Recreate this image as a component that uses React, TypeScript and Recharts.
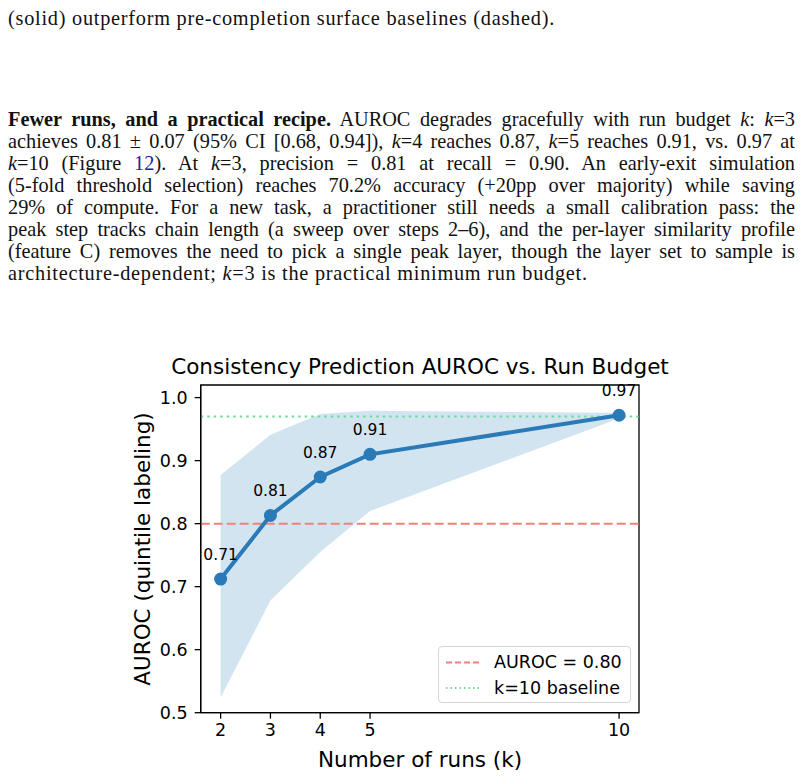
import {
  ComposedChart,
  Line,
  Area,
  XAxis,
  YAxis,
  ReferenceLine,
  ReferenceArea,
  LabelList,
} from "recharts";

const runs = [2, 3, 4, 5, 10];
const auroc = [0.712, 0.813, 0.874, 0.91, 0.972];
const ciLow = [0.524, 0.678, 0.755, 0.82, 0.967];
const ciHigh = [0.877, 0.941, 0.974, 0.979, 0.976];
const xTicks = [2, 3, 4, 5, 10];
const yTicks = [0.5, 0.6, 0.7, 0.8, 0.9, 1.0];

const chartData = runs.map((k, i) => ({
  k,
  auroc: auroc[i],
  band: [ciLow[i], ciHigh[i]],
}));

const BLUE = "#2a7ab7";
const BAND = "#d3e4f1";
const RED = "#ee8276";
const GREEN = "#6ddb9b";
const sans = "'DejaVu Sans', sans-serif";
const serif = "'Liberation Serif', serif";

const K = () => <i>k</i>;

function TextLine({ y, last, children }: { y: number; last?: boolean; children: React.ReactNode }) {
  return (
    <div
      style={{
        position: "absolute",
        left: 8,
        width: 787,
        height: 22,
        lineHeight: "22px",
        top: y - 11,
        textAlign: "justify",
        textAlignLast: last ? "left" : "justify",
        letterSpacing: last ? 0.75 : 0,
      }}
    >
      {children}
    </div>
  );
}

export default function App() {
  return (
    <div
      style={{
        position: "absolute",
        left: 0,
        top: 0,
        width: 805,
        height: 777,
        background: "#fff",
        fontFamily: serif,
        fontSize: 20.3,
        color: "#111",
        overflow: "hidden",
      }}
    >
      <TextLine y={18} last>
        (solid) outperform pre-completion surface baselines (dashed).
      </TextLine>

      <TextLine y={119}>
        <b>Fewer runs, and a practical recipe.</b> AUROC degrades gracefully with run budget <K />: <K />=3
      </TextLine>
      <TextLine y={141}>
        achieves 0.81 ± 0.07 (95% CI [0.68, 0.94]), <K />=4 reaches 0.87, <K />=5 reaches 0.91, vs. 0.97 at
      </TextLine>
      <TextLine y={163}>
        <K />=10 (Figure <span style={{ color: "#2222a0" }}>12</span>). At <K />=3, precision = 0.81 at recall = 0.90. An early-exit simulation
      </TextLine>
      <TextLine y={185}>
        (5-fold threshold selection) reaches 70.2% accuracy (+20pp over majority) while saving
      </TextLine>
      <TextLine y={207}>
        29% of compute. For a new task, a practitioner still needs a small calibration pass: the
      </TextLine>
      <TextLine y={229}>
        peak step tracks chain length (a sweep over steps 2–6), and the per-layer similarity profile
      </TextLine>
      <TextLine y={251}>
        (feature C) removes the need to pick a single peak layer, though the layer set to sample is
      </TextLine>
      <TextLine y={273} last>
        architecture-dependent; <K />=3 is the practical minimum run budget.
      </TextLine>

      {/* chart */}
      <div style={{ position: "absolute", left: 0, top: 340, width: 805, height: 437 }}>
        <ComposedChart
          width={805}
          height={437}
          data={chartData}
          margin={{ top: 45, right: 166, bottom: 34.3, left: 140.7 }}
        >
          <XAxis
            dataKey="k"
            type="number"
            domain={[1.6, 10.4]}
            ticks={xTicks}
            allowDataOverflow
            height={30}
            tickSize={6}
            tickMargin={5}
            axisLine={{ stroke: "#000", strokeWidth: 1.3 }}
            tickLine={{ stroke: "#000", strokeWidth: 1.3 }}
            tick={{ fill: "#000", fontSize: 17.5, fontFamily: sans }}
          />
          <YAxis
            type="number"
            domain={[0.5, 1.02]}
            ticks={yTicks}
            allowDataOverflow
            width={60}
            tickSize={6}
            tickMargin={7}
            tickFormatter={(v: number) => v.toFixed(1)}
            axisLine={{ stroke: "#000", strokeWidth: 1.3 }}
            tickLine={{ stroke: "#000", strokeWidth: 1.3 }}
            tick={{ fill: "#000", fontSize: 17.5, fontFamily: sans }}
          />
          <Area
            dataKey="band"
            type="linear"
            fill={BAND}
            fillOpacity={1}
            stroke="none"
            isAnimationActive={false}
          />
          <ReferenceLine y={0.8} stroke={RED} strokeWidth={2} strokeDasharray="9 4" />
          <ReferenceLine y={0.97} stroke={GREEN} strokeWidth={2} strokeDasharray="2.5 4" />
          <Line
            dataKey="auroc"
            type="linear"
            stroke={BLUE}
            strokeWidth={4}
            dot={{ r: 6.5, fill: BLUE, stroke: BLUE, strokeWidth: 0 }}
            isAnimationActive={false}
          >
            <LabelList
              dataKey="auroc"
              position="top"
              offset={19}
              formatter={(v: number) => v.toFixed(2)}
              style={{ fill: "#000", fontSize: 15.5, fontFamily: sans }}
            />
          </Line>
          <ReferenceArea
            x1={1.6}
            x2={10.4}
            y1={0.5}
            y2={1.02}
            fill="none"
            fillOpacity={0}
            stroke="#000"
            strokeWidth={1.3}
          />
        </ComposedChart>
      </div>

      <div
        style={{
          position: "absolute",
          left: 120,
          width: 600,
          top: 354,
          lineHeight: "26px",
          textAlign: "center",
          fontFamily: sans,
          fontSize: 21.5,
          color: "#000",
        }}
      >
        Consistency Prediction AUROC vs. Run Budget
      </div>
      <div
        style={{
          position: "absolute",
          left: 220,
          width: 400,
          top: 747,
          lineHeight: "26px",
          textAlign: "center",
          fontFamily: sans,
          fontSize: 21.5,
          color: "#000",
        }}
      >
        Number of runs (k)
      </div>
      <div
        style={{
          position: "absolute",
          left: 143 - 200,
          width: 400,
          top: 549 - 13,
          height: 26,
          lineHeight: "26px",
          textAlign: "center",
          fontFamily: sans,
          fontSize: 21.5,
          color: "#000",
          transform: "rotate(-90deg)",
          transformOrigin: "200px 13px",
        }}
      >
        AUROC (quintile labeling)
      </div>

      {/* legend */}
      <div
        style={{
          position: "absolute",
          left: 438,
          top: 646,
          width: 191,
          height: 55,
          border: "1px solid #d6d6d6",
          borderRadius: 4,
          background: "rgba(255,255,255,0.8)",
          fontFamily: sans,
          fontSize: 17.5,
          color: "#000",
        }}
      >
        <svg width={40} height={55} style={{ position: "absolute", left: 6, top: 0 }}>
          <line x1={1} x2={36} y1={15.5} y2={15.5} stroke={RED} strokeWidth={2} strokeDasharray="6 3" />
          <line x1={1} x2={36} y1={41} y2={41} stroke={GREEN} strokeWidth={2} strokeDasharray="1.5 3" />
        </svg>
        <div style={{ position: "absolute", left: 55, top: 4, lineHeight: "22px" }}>AUROC = 0.80</div>
        <div style={{ position: "absolute", left: 55, top: 29.5, lineHeight: "22px" }}>k=10 baseline</div>
      </div>
    </div>
  );
}
